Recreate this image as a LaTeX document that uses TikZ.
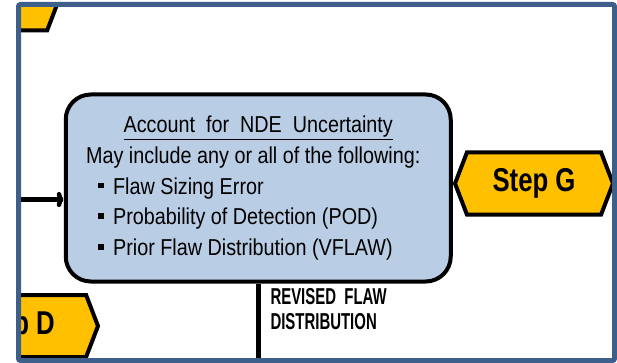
\documentclass[tikz,border=0pt]{standalone}
\usepackage{fontspec}
\setmainfont{Liberation Sans}
\newfontfamily\narrowfont{Liberation Sans}[FakeStretch=0.86]
\newfontfamily\tagfont{Liberation Sans}[FakeStretch=0.78]
\newfontfamily\condfont{Liberation Sans}[FakeStretch=0.65]
\usetikzlibrary{shapes.symbols,arrows.meta,positioning}

\definecolor{boxBlue}{HTML}{B9CDE5}
\definecolor{tagYellow}{HTML}{FFC000}
\definecolor{frameBlue}{HTML}{3E5F8A}

\tikzset{
  stepTag/.style={signal, signal to=west and east, signal pointer angle=138,
    fill=tagYellow, draw=black, line width=4pt, inner sep=0pt,
    minimum height=62pt, minimum width=158pt,
    font=\tagfont\bfseries\fontsize{33}{35}\selectfont},
  ndeBox/.style={rectangle, rounded corners=25pt, fill=boxBlue, draw=black,
    line width=4pt, minimum width=385pt, minimum height=187pt, inner sep=0pt,
    font=\narrowfont\fontsize{23}{30.75}\selectfont},
  flowLine/.style={line width=4.5pt, -{To[length=7pt,width=15pt]}},
  flowLabel/.style={font=\condfont\bfseries\fontsize{23}{25}\selectfont,
    align=left, inner sep=0pt},
  frameLine/.style={draw=frameBlue, line width=5pt, rounded corners=2pt}
}
\newcommand{\sqBullet}{\hspace*{12pt}\rule[6pt]{5.5pt}{5.5pt}\hspace{9.5pt}}

\begin{document}
\begin{tikzpicture}[x=1pt,y=-1pt]
  \useasboundingbox (0,0) rectangle (617,363);
  \begin{scope}
    \clip (21,7) rectangle (612,358);
    % boite centrale
    \node[ndeBox] (nde) at (258.25,188) {%
      \begin{tabular}{@{}l@{\hspace{10pt}}}
        \multicolumn{1}{c}{\underline{Account\ \ for\ \ NDE\ \ Uncertainty}}\\
        May include any or all of the following:\\
        \sqBullet Flaw Sizing Error\\
        \sqBullet Probability of Detection (POD)\\
        \sqBullet Prior Flaw Distribution (VFLAW)
      \end{tabular}};
    % etiquettes des etapes
    \node[stepTag] (stepTop) at (-20,-0.5) {};
    \node[stepTag, minimum width=168pt] (stepD) at (14,326) {Step D};
    \node[stepTag] (stepG) at (534,183.5) {Step G};
    % fleches
    \coordinate (inFlow) at (10,199.5);
    \coordinate (outFlow) at (nde.south |- 0,366);
    \draw[flowLine] (inFlow) -- (inFlow -| nde.west);
    \draw[flowLine] (nde.south) -- (outFlow)
      node[flowLabel, pos=0.31, anchor=west, xshift=10pt]
      {REVISED\ \ FLAW\\DISTRIBUTION};
  \end{scope}
  \draw[frameLine] (18.5,4.5) rectangle (614.5,360.5);
\end{tikzpicture}
\end{document}
